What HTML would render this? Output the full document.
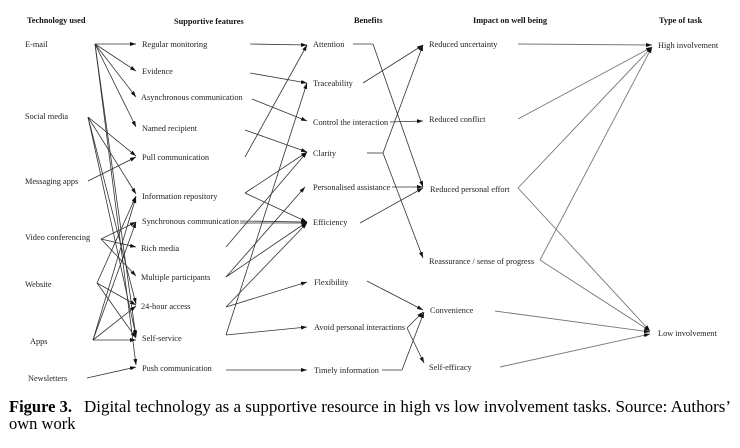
<!DOCTYPE html>
<html>
<head>
<meta charset="utf-8">
<style>
  html, body { margin:0; padding:0; background:#fff; }
  svg { display:block; }
  .t { font-family: "Liberation Serif", serif; font-size: 8.3px; fill: #222; }
  .h { font-family: "Liberation Serif", serif; font-size: 8.3px; font-weight: bold; fill: #111; }
  .c { font-family: "Liberation Serif", serif; font-size: 16.5px; fill: #000; }
  .l line, .l path { stroke: #333; stroke-width: 0.8; fill: none; }
  .r line, .r path { stroke: #777; stroke-width: 0.9; fill: none; }
</style>
</head>
<body>
<svg width="740" height="448" viewBox="0 0 740 448" xmlns="http://www.w3.org/2000/svg">
  <defs>
    <marker id="a" viewBox="0 0 6 4" refX="6" refY="2" markerWidth="6" markerHeight="4" orient="auto" markerUnits="userSpaceOnUse">
      <path d="M0,0 L6,2 L0,4 z" fill="#111"/>
    </marker>
  </defs>

  <!-- Headers -->
  <text class="h" x="27" y="23">Technology used</text>
  <text class="h" x="174" y="24">Supportive features</text>
  <text class="h" x="354" y="23">Benefits</text>
  <text class="h" x="473" y="23">Impact on well being</text>
  <text class="h" x="659" y="23">Type of task</text>

  <!-- Column 1 -->
  <text class="t" x="25" y="47">E-mail</text>
  <text class="t" x="25" y="119">Social media</text>
  <text class="t" x="25" y="184">Messaging apps</text>
  <text class="t" x="25" y="240">Video conferencing</text>
  <text class="t" x="25" y="287">Website</text>
  <text class="t" x="30" y="344">Apps</text>
  <text class="t" x="28" y="381">Newsletters</text>

  <!-- Column 2 -->
  <text class="t" x="142" y="47">Regular monitoring</text>
  <text class="t" x="142" y="74">Evidence</text>
  <text class="t" x="141" y="100">Asynchronous communication</text>
  <text class="t" x="142" y="131">Named recipient</text>
  <text class="t" x="142" y="160">Pull communication</text>
  <text class="t" x="142" y="199">Information repository</text>
  <text class="t" x="142" y="224">Synchronous communication</text>
  <text class="t" x="141" y="251">Rich media</text>
  <text class="t" x="141" y="280">Multiple participants</text>
  <text class="t" x="141" y="309">24-hour access</text>
  <text class="t" x="142" y="341">Self-service</text>
  <text class="t" x="142" y="371">Push communication</text>

  <!-- Column 3 -->
  <text class="t" x="313" y="47">Attention</text>
  <text class="t" x="313" y="86">Traceability</text>
  <text class="t" x="313" y="125">Control the interaction</text>
  <text class="t" x="313" y="156">Clarity</text>
  <text class="t" x="313" y="190">Personalised assistance</text>
  <text class="t" x="313" y="225">Efficiency</text>
  <text class="t" x="314" y="285">Flexibility</text>
  <text class="t" x="314" y="330">Avoid personal interactions</text>
  <text class="t" x="314" y="373">Timely information</text>

  <!-- Column 4 -->
  <text class="t" x="429" y="47">Reduced uncertainty</text>
  <text class="t" x="429" y="122">Reduced conflict</text>
  <text class="t" x="430" y="192">Reduced personal effort</text>
  <text class="t" x="429" y="264">Reassurance / sense of progress</text>
  <text class="t" x="430" y="313">Convenience</text>
  <text class="t" x="429" y="370">Self-efficacy</text>

  <!-- Column 5 -->
  <text class="t" x="658" y="48">High involvement</text>
  <text class="t" x="658" y="336">Low involvement</text>

  <!-- Left block lines -->
  <g class="l">
    <!-- E-mail -->
    <line x1="95" y1="44" x2="136" y2="44" marker-end="url(#a)"/>
    <line x1="95" y1="44" x2="136" y2="71" marker-end="url(#a)"/>
    <line x1="95" y1="44" x2="136" y2="97" marker-end="url(#a)"/>
    <line x1="95" y1="44" x2="136" y2="127" marker-end="url(#a)"/>
    <line x1="95" y1="44" x2="136" y2="337" marker-end="url(#a)"/>
    <line x1="95" y1="44" x2="136" y2="365" marker-end="url(#a)"/>
    <!-- Social media -->
    <line x1="88" y1="117" x2="136" y2="156" marker-end="url(#a)"/>
    <line x1="88" y1="117" x2="136" y2="194" marker-end="url(#a)"/>
    <line x1="88" y1="117" x2="136" y2="304" marker-end="url(#a)"/>
    <line x1="88" y1="117" x2="136" y2="336" marker-end="url(#a)"/>
    <!-- Messaging apps -->
    <line x1="88" y1="181" x2="136" y2="157" marker-end="url(#a)"/>
    <!-- Video conferencing -->
    <line x1="101" y1="239" x2="136" y2="222" marker-end="url(#a)"/>
    <line x1="101" y1="239" x2="136" y2="247" marker-end="url(#a)"/>
    <line x1="101" y1="239" x2="136" y2="276" marker-end="url(#a)"/>
    <!-- Website -->
    <line x1="97" y1="283" x2="136" y2="196" marker-end="url(#a)"/>
    <line x1="97" y1="283" x2="136" y2="305" marker-end="url(#a)"/>
    <line x1="97" y1="283" x2="136" y2="338" marker-end="url(#a)"/>
    <!-- Apps -->
    <line x1="93" y1="340" x2="136" y2="340" marker-end="url(#a)"/>
    <line x1="93" y1="340" x2="136" y2="306" marker-end="url(#a)"/>
    <line x1="93" y1="340" x2="136" y2="197" marker-end="url(#a)"/>
    <line x1="93" y1="340" x2="136" y2="222" marker-end="url(#a)"/>
    <!-- Newsletters -->
    <line x1="87" y1="378" x2="136" y2="367" marker-end="url(#a)"/>

    <!-- Column 2 -> Column 3 -->
    <line x1="250" y1="44" x2="307" y2="45" marker-end="url(#a)"/>
    <line x1="250" y1="73" x2="307" y2="83" marker-end="url(#a)"/>
    <line x1="252" y1="99" x2="307" y2="121" marker-end="url(#a)"/>
    <line x1="245" y1="130" x2="307" y2="152" marker-end="url(#a)"/>
    <line x1="245" y1="157" x2="307" y2="45" marker-end="url(#a)"/>
    <line x1="245" y1="193" x2="307" y2="152" marker-end="url(#a)"/>
    <line x1="245" y1="193" x2="307" y2="222" marker-end="url(#a)"/>
    <line x1="240" y1="221" x2="307" y2="222" marker-end="url(#a)"/>
    <line x1="240" y1="223" x2="307" y2="223" />
    <line x1="226" y1="247" x2="307" y2="152" marker-end="url(#a)"/>
    <line x1="226" y1="277" x2="307" y2="222" marker-end="url(#a)"/>
    <line x1="226" y1="277" x2="305" y2="187" marker-end="url(#a)"/>
    <line x1="226" y1="307" x2="307" y2="223" marker-end="url(#a)"/>
    <line x1="226" y1="307" x2="307" y2="282" marker-end="url(#a)"/>
    <line x1="226" y1="335" x2="307" y2="83" marker-end="url(#a)"/>
    <line x1="226" y1="335" x2="307" y2="327" marker-end="url(#a)"/>
    <line x1="226" y1="370" x2="307" y2="370" marker-end="url(#a)"/>

    <!-- Column 3 -> Column 4 -->
    <line x1="353" y1="44" x2="373" y2="44"/>
    <line x1="373" y1="44" x2="423" y2="187" marker-end="url(#a)"/>
    <line x1="363" y1="83" x2="423" y2="45" marker-end="url(#a)"/>
    <line x1="390" y1="122" x2="423" y2="121" marker-end="url(#a)"/>
    <line x1="367" y1="153" x2="383" y2="153"/>
    <line x1="383" y1="153" x2="423" y2="45" marker-end="url(#a)"/>
    <line x1="383" y1="153" x2="423" y2="258" marker-end="url(#a)"/>
    <line x1="392" y1="187" x2="423" y2="187" marker-end="url(#a)"/>
    <line x1="360" y1="223" x2="423" y2="188" marker-end="url(#a)"/>
    <line x1="367" y1="281" x2="423" y2="310" marker-end="url(#a)"/>
    <line x1="407" y1="328" x2="423" y2="312" marker-end="url(#a)"/>
    <line x1="407" y1="328" x2="424" y2="363" marker-end="url(#a)"/>
    <line x1="382" y1="370" x2="402" y2="370"/>
    <line x1="402" y1="370" x2="424" y2="312" marker-end="url(#a)"/>
  </g>

  <!-- Right block lines -->
  <g class="r">
    <line x1="518" y1="44" x2="652" y2="45" marker-end="url(#a)"/>
    <line x1="518" y1="119" x2="652" y2="47" marker-end="url(#a)"/>
    <line x1="518" y1="188" x2="652" y2="47" marker-end="url(#a)"/>
    <line x1="518" y1="188" x2="650" y2="331" marker-end="url(#a)"/>
    <line x1="540" y1="260" x2="652" y2="47" marker-end="url(#a)"/>
    <line x1="540" y1="260" x2="650" y2="331" marker-end="url(#a)"/>
    <line x1="495" y1="311" x2="650" y2="332" marker-end="url(#a)"/>
    <line x1="500" y1="367" x2="650" y2="334" marker-end="url(#a)"/>
  </g>

  <!-- Caption -->
  <text class="c" x="9" y="412" font-weight="bold">Figure 3.</text>
  <text class="c" x="84" y="412" textLength="647" lengthAdjust="spacingAndGlyphs">Digital technology as a supportive resource in high vs low involvement tasks. Source: Authors’</text>
  <text class="c" x="9" y="429">own work</text>
</svg>
</body>
</html>
